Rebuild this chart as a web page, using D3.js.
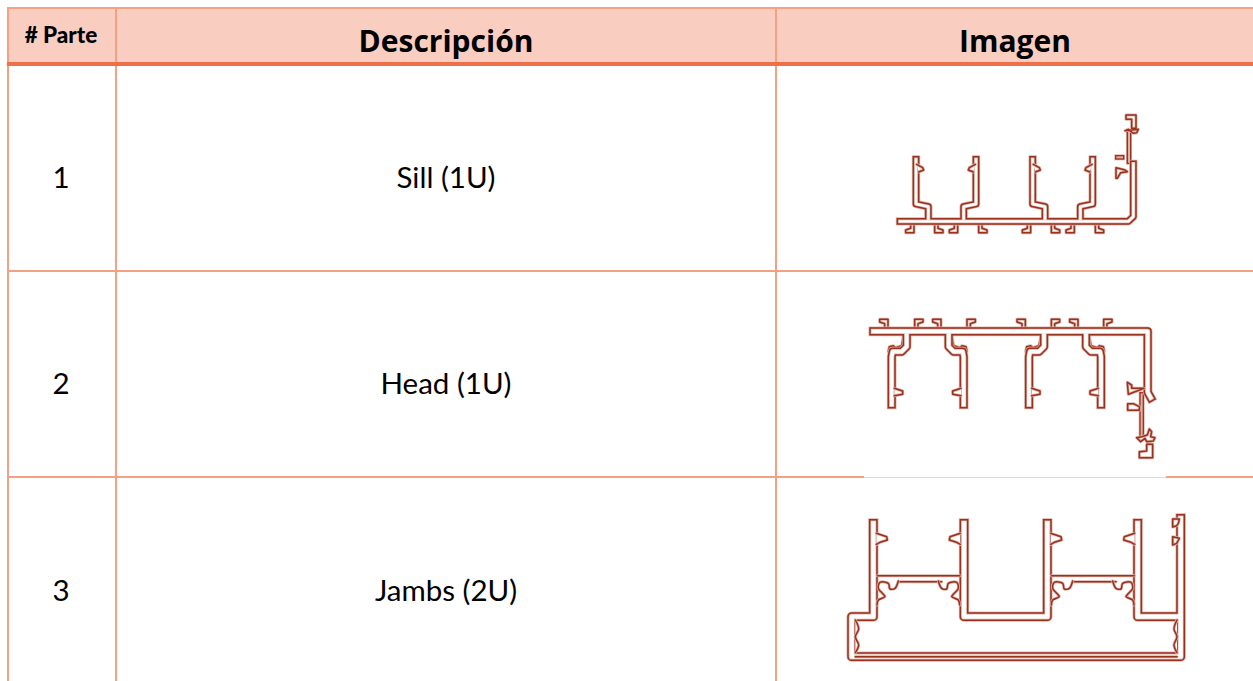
<!DOCTYPE html>
<html><head><meta charset="utf-8">
<script src="https://cdnjs.cloudflare.com/ajax/libs/d3/7.8.5/d3.min.js"></script>
<style>html,body{margin:0;padding:0;background:#fff;overflow:hidden}svg{display:block}</style>
</head><body>
<svg id="c" width="1253" height="681"></svg>
<script>
const headers = ["# Parte", "Descripción", "Imagen"];
const parts = ["1", "2", "3"];
const descriptions = ["Sill (1U)", "Head (1U)", "Jambs (2U)"];

// Profile outlines, in the drawing's own units (3 units = 1 screen pixel)
const shift = (s,dx) => s.map(p => [p[0]+dx,p[1]]);
const mirror = (s,c) => s.map(p => [2*c-p[0],p[1]]);
const flip = (s,base,dir) => s.map(p => [p[0],base+dir*p[1]]);
const quad = (s,c,dx) => [s, mirror(s,c), shift(s,dx), shift(mirror(s,c),dx)];

const footShape = [[-4,0],[-4,13],[-19,18],[-19,26],[6,26],[6,0]];
const footAt = (list,base,dir) => list.map(([x,side]) => {
  const f = flip(footShape,base,dir).map(p => [side*(p[0]),p[1]]);
  return shift(f,x);
});
const sillFeet = [[96,1],[170,-1],[227,1],[302,-1],[446,1],[520,-1],[577,1],[652,-1]];
const headFeet = [[78,1],[170,-1],[237,1],[327,-1],[490,1],[580,-1],[648,1],[737,-1]];

const sillUpright = [[108,178],[108,312],[145,320],[145,356]];
const sillNub = [[110,193],[128,203],[131,210],[116,216]];
const sillWalls = [[[60,364],[745,364],[760,350],[760,192]], ...quad(sillUpright,198,350)];
const sillUnder = footAt(sillFeet,372,1);
const sillOver = [...quad(sillNub,198,350),
  [[738,45],[768,45],[768,85],[755,85],[755,58],[738,58],[738,45]],
  [[735,92],[775,88],[770,98],[760,100],[745,88],[735,92]],
  [[708,203],[735,210],[742,215],[722,218],[712,235],[708,235],[708,203]]
];
const sillThick = [[[747,185],[747,95]],[[712,172],[726,172]]];

const headUpright = [[140,90],[140,125],[125,140],[98,140],[95,155],[95,298]];
const headHook = [[85,140],[88,125],[100,122],[106,128],[125,122],[130,95]];
const headNub = [[103,250],[128,258],[128,268],[103,272]];
const headWalls = [[[40,79],[863,79],[863,262],[872,278]], ...quad(headUpright,203,412)];
const headUnder = [...footAt(headFeet,69,-1), ...quad(headHook,203,412)];
const headOver = [...quad(headNub,203,412),
  [[802,232],[815,240],[815,250],[852,250],[815,264],[805,268],[802,232]],
  [[803,296],[820,296],[838,305],[838,316],[803,316],[803,296]],
  [[830,398],[845,395],[862,390],[868,372],[875,380],[872,395],[885,398],[880,408],[860,410],[855,400],[842,410],[830,398]],
  [[838,440],[860,438],[860,418],[878,418],[878,458],[838,458],[838,440]]
];
const headThick = [[[845,268],[845,398]]];

const jambWalls = [
  [[130,55],[130,335],[65,335],[65,455],[1052,455],[1052,40]],
  [[402,55],[402,335],[652,335],[652,55]],
  [[923,55],[923,335],[1050,335]]
];
const jambNub = [[139,85],[170,95],[172,105],[150,112],[139,118]];
const jambScroll = [[205,228],[195,250],[180,252],[175,235],[150,232],[145,250],[160,268],[165,275],[145,285],[141,300]];
const jambBar = [[142,212],[390,212]];
const jambBarLow = [[205,230],[335,230]];
const jambOver = [...quad(jambNub,265,523),
  [[1028,42],[1048,42],[1045,55],[1040,62],[1028,66],[1028,42]],
  [[1028,95],[1048,100],[1040,115],[1028,120],[1028,95]]
];
const jambCurves = [...quad(jambScroll,265,523),
  [[76,345],[86,372],[76,395],[86,420],[76,443]],
  [[1041,345],[1032,372],[1041,395],[1032,420],[1041,443]]
];
const jambLines = [jambBar, shift(jambBar,523), jambBarLow, shift(jambBarLow,523), [[76,455],[1041,455]]];

const profiles = [
  {o:[880,100], wall:16, walls:sillWalls, under:sillUnder, over:sillOver, thick:sillThick, lines:[], curves:[]},
  {o:[860,305], wall:20, walls:headWalls, under:headUnder, over:headOver, thick:headThick, lines:[], curves:[]},
  {o:[830,505], wall:22, walls:jambWalls, under:[], over:jambOver, thick:[], lines:jambLines, curves:jambCurves}
];

const W = 1253, H = 681;
const svg = d3.select("#c");
svg.append("defs").append("filter").attr("id","soft").attr("x","-5%").attr("y","-5%").attr("width","110%").attr("height","110%")
  .append("feGaussianBlur").attr("stdDeviation",0.4);

const xEdge = d3.scaleOrdinal().domain([0,1,2,3]).range([8,116,776,W]);
const yEdge = d3.scaleOrdinal().domain([0,1,2,3,4]).range([8,64,271,477,H]);
const thin = "#F4A085", head = "#F9CEC1", strong = "#EF6F48";

svg.append("rect").attr("x",xEdge(0)).attr("y",yEdge(0)).attr("width",W-xEdge(0)).attr("height",yEdge(1)-yEdge(0)).attr("fill",head);

const g = svg.append("g");
[0,2,3].forEach(i => g.append("line").attr("x1",xEdge(0)-1).attr("x2",W).attr("y1",yEdge(i)).attr("y2",yEdge(i)).attr("stroke",thin).attr("stroke-width",2));
[0,1,2].forEach(i => g.append("line").attr("x1",xEdge(i)).attr("x2",xEdge(i)).attr("y1",yEdge(0)).attr("y2",H).attr("stroke",thin).attr("stroke-width",2));
g.append("line").attr("x1",xEdge(0)-1).attr("x2",W).attr("y1",yEdge(1)).attr("y2",yEdge(1)).attr("stroke",strong).attr("stroke-width",4);

// the pasted picture's white edge partly covers the rule above row 3
svg.append("rect").attr("x",864).attr("y",470).attr("width",302).attr("height",7.5).attr("fill","#fff");

const ff = '"Lato","Noto Sans",sans-serif', hf = '"Open Sans","Noto Sans",sans-serif';
const cx = [61, 446, 1015];
svg.append("text").attr("x",cx[0]).attr("y",43).attr("text-anchor","middle")
  .attr("font-family",ff).attr("font-weight",900).attr("font-size",22.5).attr("fill","#000").text(headers[0]);
[1,2].forEach(i => svg.append("text").attr("x",cx[i]).attr("y",52).attr("text-anchor","middle")
  .attr("font-family",hf).attr("font-weight",700).attr("font-size",30).attr("fill","#000").text(headers[i]));

const rowY = [188, 394, 601];
parts.forEach((p,i) => {
  svg.append("text").attr("x",cx[0]).attr("y",rowY[i]).attr("text-anchor","middle")
    .attr("font-family",ff).attr("font-size",29.5).attr("fill","#000").text(p);
  svg.append("text").attr("x",cx[1]).attr("y",rowY[i]).attr("text-anchor","middle")
    .attr("font-family",ff).attr("font-size",29.5).attr("fill","#000").text(descriptions[i]);
});

const ink = "#98301E", pale = "#DDB3A8";
profiles.forEach(pr => {
  const sx = d3.scaleLinear().domain([0,3]).range([pr.o[0],pr.o[0]+1]);
  const sy = d3.scaleLinear().domain([0,3]).range([pr.o[1],pr.o[1]+1]);
  const line = d3.line().x(d=>sx(d[0])).y(d=>sy(d[1]));
  const curve = d3.line().x(d=>sx(d[0])).y(d=>sy(d[1])).curve(d3.curveCatmullRom);
  const pg = svg.append("g").attr("filter","url(#soft)").attr("fill","none").attr("stroke-linejoin","round");
  const stroke = (set,gen,col,sw,cap,fill) => pg.selectAll(null).data(set).join("path").attr("d",gen)
    .attr("stroke",col).attr("stroke-width",sw).attr("stroke-linecap",cap||"square").attr("fill",fill||"none");
  const outline = (set,gen) => { stroke(set,gen,pale,3,"round","#fff"); stroke(set,gen,ink,1.5,"round"); };
  const w = pr.wall/3;
  outline(pr.under,line);
  const widths = [[w+3,pale],[w+1.5,ink],[w-1.5,pale],[w-3,"#fff"]];
  const thickW = 3.6;
  [[thickW+2.4,pale],[thickW+1,ink],[thickW-1.6,pale]].forEach(([sw,c]) => stroke(pr.thick,line,c,sw));
  widths.forEach(([sw,c]) => stroke(pr.walls,line,c,sw));
  outline(pr.over,line);
  outline(pr.lines,line);
  outline(pr.curves,curve);
});
</script>
</body></html>
